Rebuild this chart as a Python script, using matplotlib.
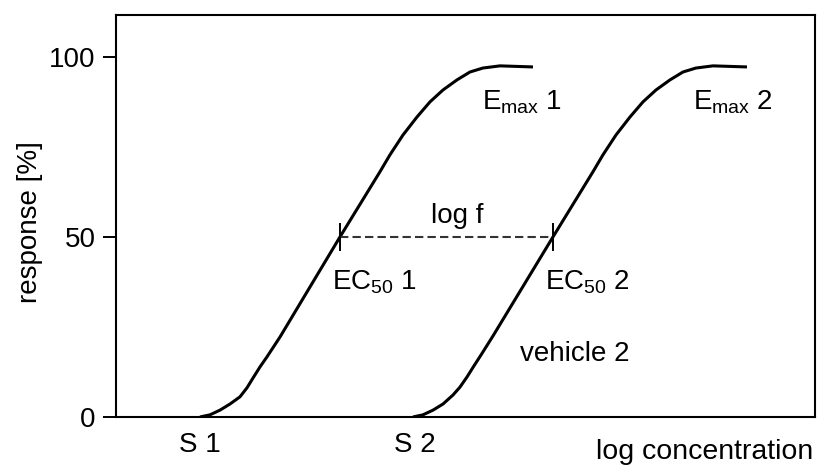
import matplotlib.pyplot as plt

plt.rcParams['font.family'] = ['Liberation Sans', 'DejaVu Sans']
plt.rcParams['mathtext.fontset'] = 'custom'
plt.rcParams['mathtext.rm'] = 'Liberation Sans'
plt.rcParams['mathtext.it'] = 'Liberation Sans:italic'

# concentration-response curves (log concentration, response in %)
x_curve1 = [8.4, 9.4, 10.4, 11.4, 12.4, 13.1, 13.7, 14.4, 15.1, 16.4, 22.4,
            26.4, 27.4, 28.7, 30.1, 31.4, 32.7, 34.1, 35.4, 36.7, 38.4, 41.7]
y_curve1 = [0, 0.6, 1.9, 3.6, 5.6, 8.1, 10.8, 13.9, 16.7, 22.2, 50,
            68.1, 72.8, 78.3, 83.3, 87.5, 90.8, 93.6, 95.8, 96.9, 97.5, 97.2]

x_curve2 = [29.7, 30.7, 31.7, 32.7, 33.7, 34.4, 35.1, 35.8, 36.5, 37.7, 43.7,
            47.7, 48.7, 50.0, 51.4, 52.7, 54.0, 55.4, 56.7, 58.0, 59.7, 63.1]
y_curve2 = [0, 0.6, 1.9, 3.6, 6.1, 8.3, 11.1, 14.2, 17.2, 22.5, 50,
            68.1, 72.8, 78.3, 83.3, 87.5, 90.8, 93.6, 95.8, 96.9, 97.5, 97.2]

ec50 = [22.4, 43.7]
half_response = 50

s_positions = [8.4, 29.9]
s_labels = ['S 1', 'S 2']
y_ticks = [0, 50, 100]

fig = plt.figure(figsize=(8.19, 4.68), dpi=100)
ax = fig.add_axes([0.1416, 0.109, 0.8535, 0.858])

ax.plot(x_curve1, y_curve1, color='black', lw=2.2, solid_capstyle='butt',
        solid_joinstyle='round')
ax.plot(x_curve2, y_curve2, color='black', lw=2.2, solid_capstyle='butt',
        solid_joinstyle='round')

# shift between the two EC50 values
ax.plot(ec50, [half_response, half_response], color='#333333', lw=1.5,
        linestyle=(0, (4, 2)))
ax.plot(ec50, [half_response, half_response], linestyle='none', marker='|',
        markersize=20, mew=1.4, color='black')

fs = 20
ax.text(36.6, 85.3, r'E$_{\mathrm{max}}$ 1', fontsize=fs, ha='left', va='baseline')
ax.text(57.7, 85.3, r'E$_{\mathrm{max}}$ 2', fontsize=fs, ha='left', va='baseline')
ax.text(21.6, 35.3, r'EC$_{\mathrm{50}}$ 1', fontsize=fs, ha='left', va='baseline')
ax.text(42.9, 35.3, r'EC$_{\mathrm{50}}$ 2', fontsize=fs, ha='left', va='baseline')
ax.text(40.4, 15.6, 'vehicle 2', fontsize=fs, ha='left', va='baseline')
ax.text(34.1, 53.9, 'log f', fontsize=fs, ha='center', va='baseline')

ax.set_xlim(0, 69.9)
ax.set_ylim(0, 111.5)

ax.set_yticks(y_ticks)
ax.set_xticks(s_positions)
ax.set_xticklabels(s_labels)
ax.tick_params(axis='y', direction='out', length=9.5, width=1.4, labelsize=fs, pad=5)
ax.tick_params(axis='x', length=0, labelsize=fs, pad=11)

ax.set_ylabel('response [%]', fontsize=fs)
ax.yaxis.set_label_coords(-0.105, 0.486)
ax.set_xlabel('log concentration', fontsize=20.5)
ax.xaxis.set_label_coords(0.997, -0.055)
ax.xaxis.label.set_horizontalalignment('right')

for side in ['left', 'right', 'top', 'bottom']:
    ax.spines[side].set_linewidth(1.5)

fig.savefig('out.png', dpi=100)
